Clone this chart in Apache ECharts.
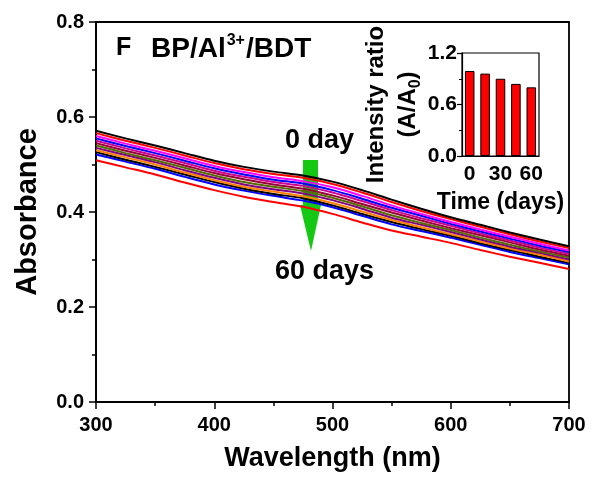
<!DOCTYPE html>
<html>
<head>
<meta charset="utf-8">
<script src="https://cdn.jsdelivr.net/npm/echarts@6/dist/echarts.min.js"></script>
<style>
  html, body { margin: 0; padding: 0; background: #fff; }
  #chart { width: 594px; height: 477px; }
</style>
</head>
<body>
<div id="chart"></div>
<script>
// Wavelength grid (nm) for the absorption spectra
const wavelengths = [300, 325, 350, 375, 400, 425, 450, 475, 500, 525, 550, 575, 600, 625, 650, 675, 700];

// Absorbance spectra, from the fresh sample (top) to the 60-day sample (bottom)
const spec01 = [0.571, 0.555, 0.540, 0.524, 0.508, 0.495, 0.485, 0.477, 0.464, 0.446, 0.426, 0.407, 0.389, 0.373, 0.357, 0.342, 0.328];
const spec02 = [0.566, 0.550, 0.535, 0.519, 0.503, 0.490, 0.480, 0.472, 0.459, 0.441, 0.421, 0.402, 0.385, 0.369, 0.353, 0.338, 0.324];
const spec03 = [0.560, 0.544, 0.529, 0.513, 0.497, 0.484, 0.473, 0.465, 0.452, 0.434, 0.414, 0.396, 0.379, 0.363, 0.348, 0.333, 0.319];
const spec04 = [0.555, 0.539, 0.524, 0.508, 0.492, 0.479, 0.468, 0.460, 0.446, 0.428, 0.409, 0.392, 0.375, 0.359, 0.344, 0.329, 0.316];
const spec05 = [0.550, 0.534, 0.519, 0.503, 0.487, 0.474, 0.463, 0.455, 0.441, 0.423, 0.404, 0.387, 0.371, 0.355, 0.340, 0.325, 0.312];
const spec06 = [0.545, 0.529, 0.514, 0.498, 0.482, 0.469, 0.458, 0.449, 0.435, 0.417, 0.399, 0.382, 0.366, 0.351, 0.336, 0.321, 0.308];
const spec07 = [0.540, 0.524, 0.509, 0.493, 0.477, 0.463, 0.453, 0.444, 0.430, 0.412, 0.393, 0.377, 0.362, 0.346, 0.331, 0.317, 0.304];
const spec08 = [0.535, 0.520, 0.505, 0.488, 0.472, 0.458, 0.448, 0.439, 0.425, 0.407, 0.388, 0.373, 0.358, 0.342, 0.327, 0.314, 0.300];
const spec09 = [0.530, 0.515, 0.500, 0.483, 0.467, 0.453, 0.443, 0.433, 0.419, 0.401, 0.383, 0.368, 0.353, 0.338, 0.323, 0.310, 0.296];
const spec10 = [0.526, 0.510, 0.495, 0.479, 0.463, 0.449, 0.438, 0.429, 0.414, 0.396, 0.379, 0.364, 0.350, 0.334, 0.320, 0.306, 0.293];
const spec11 = [0.521, 0.506, 0.491, 0.474, 0.458, 0.445, 0.434, 0.424, 0.410, 0.392, 0.374, 0.360, 0.346, 0.331, 0.316, 0.303, 0.290];
const spec12 = [0.509, 0.494, 0.479, 0.462, 0.446, 0.432, 0.421, 0.411, 0.396, 0.378, 0.361, 0.348, 0.335, 0.320, 0.306, 0.293, 0.280];

const spectra = [spec01, spec02, spec03, spec04, spec05, spec06, spec07, spec08, spec09, spec10, spec11, spec12];
const lineColors = ['#000000', '#ff0000', '#ff00ff', '#0000ff', '#d0008c', '#99003a',
                    '#556b00', '#800080', '#ff8000', '#000000', '#0000ff', '#ff0000'];

// Inset: relative intensity A/A0 versus storage time
const days = ['0', '15', '30', '45', '60'];
const ratio = [0.99, 0.96, 0.90, 0.84, 0.80];

// Axis ticks
const absTicks = { min: 0, max: 0.8, interval: 0.2 };
const wlTicks = { min: 300, max: 700, interval: 100 };
const ratioTicks = { min: 0, max: 1.2, interval: 0.6 };

const FONT = '"Liberation Sans", Arial, sans-serif';

const chart = echarts.init(document.getElementById('chart'), null, { renderer: 'canvas' });

const lineSeries = spectra.map((s, i) => ({
  type: 'line',
  name: 'S' + (i + 1),
  xAxisIndex: 0,
  yAxisIndex: 0,
  data: wavelengths.map((w, k) => [w, s[k]]),
  smooth: 0.3,
  showSymbol: false,
  lineStyle: { color: lineColors[i], width: 2 },
  itemStyle: { color: lineColors[i] },
  z: 5 + (spectra.length - i),
  silent: true
}));

const option = {
  backgroundColor: '#ffffff',
  animation: false,
  grid: [
    { left: 96, right: 25, top: 22, bottom: 71, show: true, borderColor: '#000', borderWidth: 1.8, backgroundColor: 'transparent' },
    { left: 462, top: 53, width: 77, height: 103, show: true, borderColor: '#000', borderWidth: 1.2, backgroundColor: '#fff' }
  ],
  xAxis: [
    {
      gridIndex: 0, type: 'value', min: wlTicks.min, max: wlTicks.max, interval: wlTicks.interval,
      name: 'Wavelength (nm)', nameLocation: 'middle', nameGap: 43,
      nameTextStyle: { fontFamily: FONT, fontWeight: 'bold', fontSize: 27, color: '#000' },
      axisLine: { show: true, onZero: false, lineStyle: { color: '#000', width: 1.8 } },
      axisTick: { show: true, inside: false, length: 7, lineStyle: { color: '#000', width: 1.5 } },
      minorTick: { show: true, splitNumber: 2, length: 4, lineStyle: { color: '#000', width: 1.5 } },
      axisLabel: { fontFamily: FONT, fontWeight: 'bold', fontSize: 20, color: '#000', margin: 13 },
      splitLine: { show: false }
    },
    {
      gridIndex: 1, type: 'category', data: days,
      name: 'Time (days)', nameLocation: 'middle', nameGap: 35,
      nameTextStyle: { fontFamily: FONT, fontWeight: 'bold', fontSize: 23, color: '#000' },
      axisLine: { show: true, lineStyle: { color: '#000', width: 1.2 } },
      axisTick: { show: false },
      axisLabel: { interval: 1, fontFamily: FONT, fontWeight: 'bold', fontSize: 21, color: '#000', margin: 8 },
      splitLine: { show: false }
    }
  ],
  yAxis: [
    {
      gridIndex: 0, type: 'value', min: absTicks.min, max: absTicks.max, interval: absTicks.interval,
      name: 'Absorbance', nameLocation: 'middle', nameGap: 54,
      nameTextStyle: { fontFamily: FONT, fontWeight: 'bold', fontSize: 29, color: '#000' },
      axisLine: { show: true, onZero: false, lineStyle: { color: '#000', width: 1.8 } },
      axisTick: { show: true, inside: false, length: 7, lineStyle: { color: '#000', width: 1.5 } },
      minorTick: { show: true, splitNumber: 2, length: 4, lineStyle: { color: '#000', width: 1.5 } },
      axisLabel: { fontFamily: FONT, fontWeight: 'bold', fontSize: 20, color: '#000', margin: 12,
                   formatter: v => v.toFixed(1) },
      splitLine: { show: false }
    },
    {
      gridIndex: 1, type: 'value', min: ratioTicks.min, max: ratioTicks.max, interval: ratioTicks.interval,
      name: '{a|Intensity ratio}\n{a|(A/A}{b|0}{a|)}', nameLocation: 'middle', nameGap: 34,
      nameTextStyle: {
        fontFamily: FONT, fontWeight: 'bold', fontSize: 24, color: '#000', lineHeight: 32,
        rich: {
          a: { fontFamily: FONT, fontWeight: 'bold', fontSize: 24, color: '#000', lineHeight: 32 },
          b: { fontFamily: FONT, fontWeight: 'bold', fontSize: 16, color: '#000', lineHeight: 26, verticalAlign: 'bottom' }
        }
      },
      axisLine: { show: true, lineStyle: { color: '#000', width: 1.2 } },
      axisTick: { show: true, inside: false, length: 5, lineStyle: { color: '#000', width: 1.2 } },
      minorTick: { show: true, splitNumber: 2, length: 3, lineStyle: { color: '#000', width: 1 } },
      axisLabel: { fontFamily: FONT, fontWeight: 'bold', fontSize: 21, color: '#000', margin: 5,
                   formatter: v => v.toFixed(1) },
      splitLine: { show: false }
    }
  ],
  series: lineSeries.concat([
    {
      type: 'bar', xAxisIndex: 1, yAxisIndex: 1, data: ratio,
      barWidth: '62%',
      itemStyle: { color: '#ff0000', borderColor: '#000', borderWidth: 1 },
      silent: true, z: 10
    }
  ]),
  graphic: [
    // downward arrow marking the storage trend
    {
      type: 'polygon', z: 1, silent: true,
      shape: { points: [[303, 160], [318, 160], [318, 205], [321, 205], [311, 251], [300, 205], [303, 205]] },
      style: { fill: '#14c814', stroke: null }
    },
    {
      type: 'text', left: 116, top: 36, silent: true,
      style: { text: 'F', fontFamily: FONT, fontWeight: 'bold', fontSize: 25, fill: '#000' }
    },
    {
      type: 'text', left: 151, top: 31, silent: true,
      style: {
        text: '{a|BP/Al}{s|3+}{a|/BDT}',
        rich: {
          a: { fontFamily: FONT, fontWeight: 'bold', fontSize: 28, fill: '#000', lineHeight: 32, verticalAlign: 'bottom' },
          s: { fontFamily: FONT, fontWeight: 'bold', fontSize: 16, fill: '#000', lineHeight: 32, verticalAlign: 'top', padding: [2, 1, 0, 1] }
        }
      }
    },
    {
      type: 'text', left: 285, top: 127, silent: true,
      style: { text: '0 day', fontFamily: FONT, fontWeight: 'bold', fontSize: 27, fill: '#000' }
    },
    {
      type: 'text', left: 275, top: 258, silent: true,
      style: { text: '60 days', fontFamily: FONT, fontWeight: 'bold', fontSize: 27, fill: '#000' }
    }
  ]
};

chart.setOption(option);
</script>
</body>
</html>
